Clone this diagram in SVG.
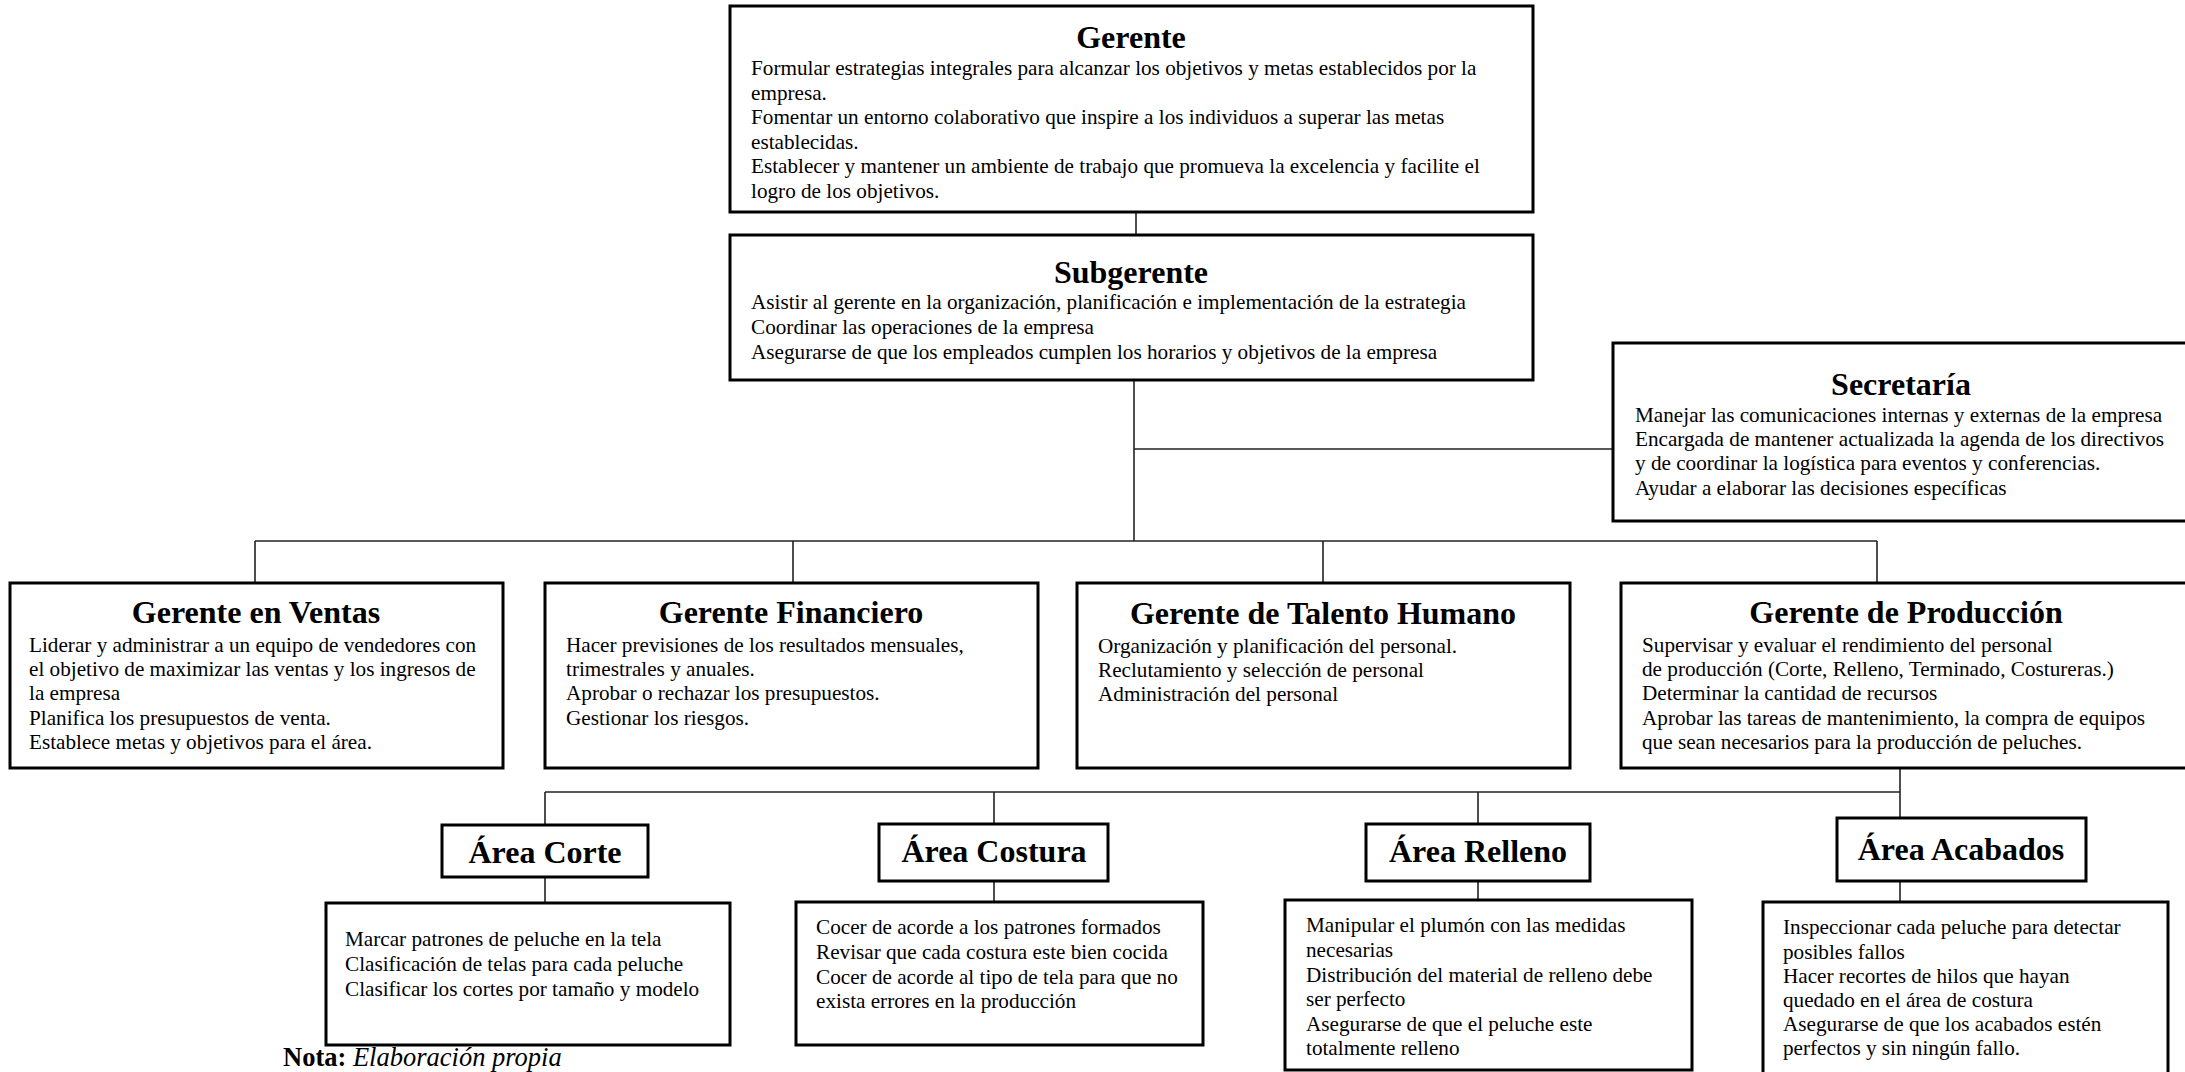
<svg xmlns="http://www.w3.org/2000/svg" width="2185" height="1072" viewBox="0 0 2185 1072">
<style>
.box{fill:#fff;stroke:#000;stroke-width:3}
.conn{fill:none;stroke:#222;stroke-width:1.6}
.t{font-family:"Liberation Serif","Times New Roman",serif;font-weight:bold;font-size:32px;text-anchor:middle;fill:#000}
.b{font-family:"Liberation Serif","Times New Roman",serif;font-size:21.2px;fill:#000}
</style>
<rect width="2185" height="1072" fill="#fff"/>
<g id="connectors">
<path class="conn" d="M1136 212V235"/>
<path class="conn" d="M1134 380V541"/>
<path class="conn" d="M1134 449H1613"/>
<path class="conn" d="M255 541H1877"/>
<path class="conn" d="M255 541V583M793 541V583M1323 541V583M1877 541V583"/>
<path class="conn" d="M1900 768V818"/>
<path class="conn" d="M545 792H1900"/>
<path class="conn" d="M545 792V825M994 792V824M1478 792V824"/>
<path class="conn" d="M545 877V903M994 881V902M1478 881V900M1900 881V902"/>
</g>
<g id="gerente">
<rect class="box" x="730" y="6" width="803" height="206"/>
<text class="t" x="1131" y="48">Gerente</text>
<text class="b"><tspan x="751" y="75">Formular estrategias integrales para alcanzar los objetivos y metas establecidos por la</tspan><tspan x="751" y="99.5">empresa.</tspan><tspan x="751" y="124">Fomentar un entorno colaborativo que inspire a los individuos a superar las metas</tspan><tspan x="751" y="148.5">establecidas.</tspan><tspan x="751" y="173">Establecer y mantener un ambiente de trabajo que promueva la excelencia y facilite el</tspan><tspan x="751" y="197.5">logro de los objetivos.</tspan></text>
</g>
<g id="subgerente">
<rect class="box" x="730" y="235" width="803" height="145"/>
<text class="t" x="1131" y="283">Subgerente</text>
<text class="b"><tspan x="751" y="309">Asistir al gerente en la organización, planificación e implementación de la estrategia</tspan><tspan x="751" y="334">Coordinar las operaciones de la empresa</tspan><tspan x="751" y="359">Asegurarse de que los empleados cumplen los horarios y objetivos de la empresa</tspan></text>
</g>
<g id="secretaria">
<rect class="box" x="1613" y="343" width="590" height="178"/>
<text class="t" x="1901" y="395">Secretaría</text>
<text class="b"><tspan x="1635" y="422">Manejar las comunicaciones internas y externas de la empresa</tspan><tspan x="1635" y="446">Encargada de mantener actualizada la agenda de los directivos</tspan><tspan x="1635" y="470">y de coordinar la logística para eventos y conferencias.</tspan><tspan x="1635" y="495">Ayudar a elaborar las decisiones específicas</tspan></text>
</g>
<g id="ventas">
<rect class="box" x="10" y="583" width="493" height="185"/>
<text class="t" x="256" y="623">Gerente en Ventas</text>
<text class="b"><tspan x="29" y="652">Liderar y administrar a un equipo de vendedores con</tspan><tspan x="29" y="676">el objetivo de maximizar las ventas y los ingresos de</tspan><tspan x="29" y="700">la empresa</tspan><tspan x="29" y="725">Planifica los presupuestos de venta.</tspan><tspan x="29" y="749">Establece metas y objetivos para el área.</tspan></text>
</g>
<g id="financiero">
<rect class="box" x="545" y="583" width="493" height="185"/>
<text class="t" x="791" y="623">Gerente Financiero</text>
<text class="b"><tspan x="566" y="652">Hacer previsiones de los resultados mensuales,</tspan><tspan x="566" y="676">trimestrales y anuales.</tspan><tspan x="566" y="700">Aprobar o rechazar los presupuestos.</tspan><tspan x="566" y="725">Gestionar los riesgos.</tspan></text>
</g>
<g id="talento">
<rect class="box" x="1077" y="583" width="493" height="185"/>
<text class="t" x="1323" y="624">Gerente de Talento Humano</text>
<text class="b"><tspan x="1098" y="653">Organización y planificación del personal.</tspan><tspan x="1098" y="677">Reclutamiento y selección de personal</tspan><tspan x="1098" y="701">Administración del personal</tspan></text>
</g>
<g id="produccion">
<rect class="box" x="1621" y="583" width="580" height="185"/>
<text class="t" x="1906" y="623">Gerente de Producción</text>
<text class="b"><tspan x="1642" y="652">Supervisar y evaluar el rendimiento del personal</tspan><tspan x="1642" y="676">de producción (Corte, Relleno, Terminado, Costureras.)</tspan><tspan x="1642" y="700">Determinar la cantidad de recursos</tspan><tspan x="1642" y="725">Aprobar las tareas de mantenimiento, la compra de equipos</tspan><tspan x="1642" y="749">que sean necesarios para la producción de peluches.</tspan></text>
</g>
<g id="area-corte">
<rect class="box" x="442" y="825" width="206" height="52"/>
<text class="t" x="545" y="863">Área Corte</text>
</g>
<g id="corte-desc">
<rect class="box" x="326" y="903" width="404" height="142"/>
<text class="b"><tspan x="345" y="946">Marcar patrones de peluche en la tela</tspan><tspan x="345" y="971">Clasificación de telas para cada peluche</tspan><tspan x="345" y="996">Clasificar los cortes por tamaño y modelo</tspan></text>
</g>
<g id="area-costura">
<rect class="box" x="879" y="824" width="229" height="57"/>
<text class="t" x="994" y="862">Área Costura</text>
</g>
<g id="costura-desc">
<rect class="box" x="796" y="902" width="407" height="143"/>
<text class="b"><tspan x="816" y="934">Cocer de acorde a los patrones formados</tspan><tspan x="816" y="959">Revisar que cada costura este bien cocida</tspan><tspan x="816" y="984">Cocer de acorde al tipo de tela para que no</tspan><tspan x="816" y="1008">exista errores en la producción</tspan></text>
</g>
<g id="area-relleno">
<rect class="box" x="1366" y="824" width="224" height="57"/>
<text class="t" x="1478" y="862">Área Relleno</text>
</g>
<g id="relleno-desc">
<rect class="box" x="1285" y="900" width="407" height="170"/>
<text class="b"><tspan x="1306" y="932">Manipular el plumón con las medidas</tspan><tspan x="1306" y="957">necesarias</tspan><tspan x="1306" y="982">Distribución del material de relleno debe</tspan><tspan x="1306" y="1006">ser perfecto</tspan><tspan x="1306" y="1031">Asegurarse de que el peluche este</tspan><tspan x="1306" y="1055">totalmente relleno</tspan></text>
</g>
<g id="area-acabados">
<rect class="box" x="1837" y="818" width="249" height="63"/>
<text class="t" x="1961" y="860">Área Acabados</text>
</g>
<g id="acabados-desc">
<rect class="box" x="1763" y="902" width="405" height="180"/>
<text class="b"><tspan x="1783" y="934">Inspeccionar cada peluche para detectar</tspan><tspan x="1783" y="959">posibles fallos</tspan><tspan x="1783" y="983">Hacer recortes de hilos que hayan</tspan><tspan x="1783" y="1007">quedado en el área de costura</tspan><tspan x="1783" y="1031">Asegurarse de que los acabados estén</tspan><tspan x="1783" y="1055">perfectos y sin ningún fallo.</tspan></text>
</g>
<g id="nota">
<text x="283" y="1066" style="font-family:'Liberation Serif','Times New Roman',serif;font-size:26.5px"><tspan font-weight="bold">Nota:</tspan> <tspan font-style="italic">Elaboración propia</tspan></text>
</g>
</svg>
